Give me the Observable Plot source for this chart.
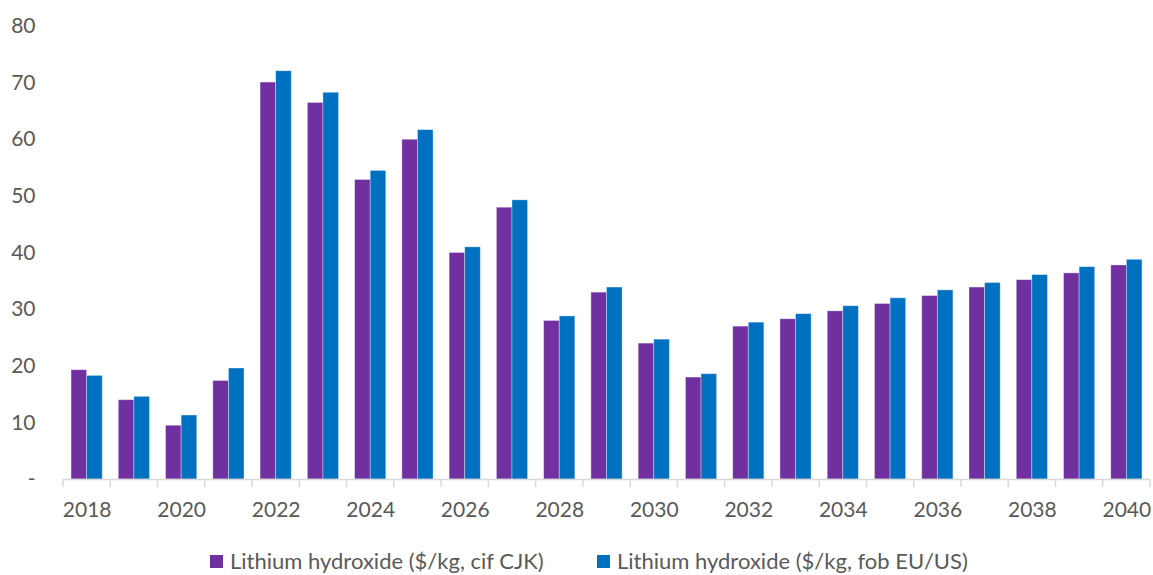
<!DOCTYPE html>
<html>
<head>
<meta charset="utf-8">
<script src="https://cdn.jsdelivr.net/npm/d3@7"></script>
<script src="https://cdn.jsdelivr.net/npm/@observablehq/plot@0.6"></script>
<style>
  html, body { margin: 0; padding: 0; background: #fff; }
  #chart svg { display: block; }
  .legend { position: relative; height: 45px; font-family: Lato, "Open Sans", sans-serif; font-size: 22px; color: #595959; }
  .legend .item { position: absolute; top: 18px; display: flex; align-items: center; white-space: nowrap; line-height: 26px; }
  .legend .sw { width: 13px; height: 13px; margin-right: 7px; }
</style>
</head>
<body>
<div id="chart"></div>
<div class="legend" id="legend"></div>
<script>
const years = [2018,2019,2020,2021,2022,2023,2024,2025,2026,2027,2028,2029,2030,2031,2032,2033,2034,2035,2036,2037,2038,2039,2040];
const cifCJK = [19.3,14.0,9.5,17.4,70.1,66.5,52.9,60.0,40.0,48.0,28.0,33.0,24.0,18.0,27.0,28.3,29.7,31.0,32.4,33.9,35.2,36.4,37.8];
const fobEUUS = [18.3,14.6,11.3,19.6,72.1,68.3,54.5,61.7,41.0,49.3,28.8,33.9,24.7,18.6,27.7,29.2,30.6,32.0,33.4,34.7,36.1,37.5,38.8];
const seriesNames = ["Lithium hydroxide ($/kg, cif CJK)", "Lithium hydroxide ($/kg, fob EU/US)"];
const seriesColors = ["#7030A0", "#0070C0"];
const yTicks = [0,10,20,30,40,50,60,70,80];
const xTickLabels = [2018,2020,2022,2024,2026,2028,2030,2032,2034,2036,2038,2040];

const W = 1153, H = 530, mL = 63, mR = 3, mT = 26, mB = 51;
const pad = 0.34;
const step = (W - mL - mR) / years.length;
const bw = step * (1 - pad);

const rowsA = years.map((y, i) => ({year: y, value: cifCJK[i]}));
const rowsB = years.map((y, i) => ({year: y, value: fobEUUS[i]}));

const plot = Plot.plot({
  width: W, height: H,
  marginLeft: mL, marginRight: mR, marginTop: mT, marginBottom: mB,
  style: {fontFamily: "Lato, 'Open Sans', sans-serif", fontSize: "21px", color: "#595959", background: "#fff"},
  x: {type: "band", domain: years, paddingInner: pad, paddingOuter: pad / 2, round: false, label: null},
  y: {type: "linear", domain: [0, 80], nice: false, label: null},
  marks: [
    Plot.barY(rowsA, {x: "year", y: "value", fill: seriesColors[0], insetRight: bw / 2, stroke: "#fff", strokeOpacity: 0.45, strokeWidth: 0.8}),
    Plot.barY(rowsB, {x: "year", y: "value", fill: seriesColors[1], insetLeft: bw / 2, stroke: "#fff", strokeOpacity: 0.45, strokeWidth: 0.8}),
    Plot.ruleY([0], {stroke: "#d9d9d9", strokeWidth: 1.5}),
    Plot.axisY({ticks: yTicks, tickSize: 0, tickPadding: 28, tickFormat: d => d === 0 ? "-" : d, fill: "#595959", label: null}),
    Plot.axisX({ticks: xTickLabels, tickSize: 0, tickPadding: 23, tickFormat: d => String(d), fill: "#595959", label: null})
  ]
});
document.getElementById("chart").appendChild(plot);

// category boundary ticks, positioned from the x scale
const xs = plot.scale("x");
const ys = plot.scale("y");
const svg = d3.select(plot);
const y0 = ys.apply(0);
const gap = xs.step - xs.bandwidth;
const tickG = svg.append("g").attr("stroke", "#d9d9d9").attr("stroke-width", 1.5);
const bx = years.map(y => xs.apply(y) - gap / 2);
bx.push(xs.apply(years[years.length - 1]) + xs.bandwidth + gap / 2);
bx.forEach(x => {
  tickG.append("line").attr("x1", x).attr("x2", x).attr("y1", y0).attr("y2", y0 + 8);
});

const legend = document.getElementById("legend");
const lx = [210, 597];
seriesNames.forEach((name, i) => {
  const item = document.createElement("div");
  item.className = "item";
  item.style.left = lx[i] + "px";
  const sw = document.createElement("span");
  sw.className = "sw";
  sw.style.background = seriesColors[i];
  const t = document.createElement("span");
  t.textContent = name;
  item.appendChild(sw); item.appendChild(t);
  legend.appendChild(item);
});
</script>
</body>
</html>
